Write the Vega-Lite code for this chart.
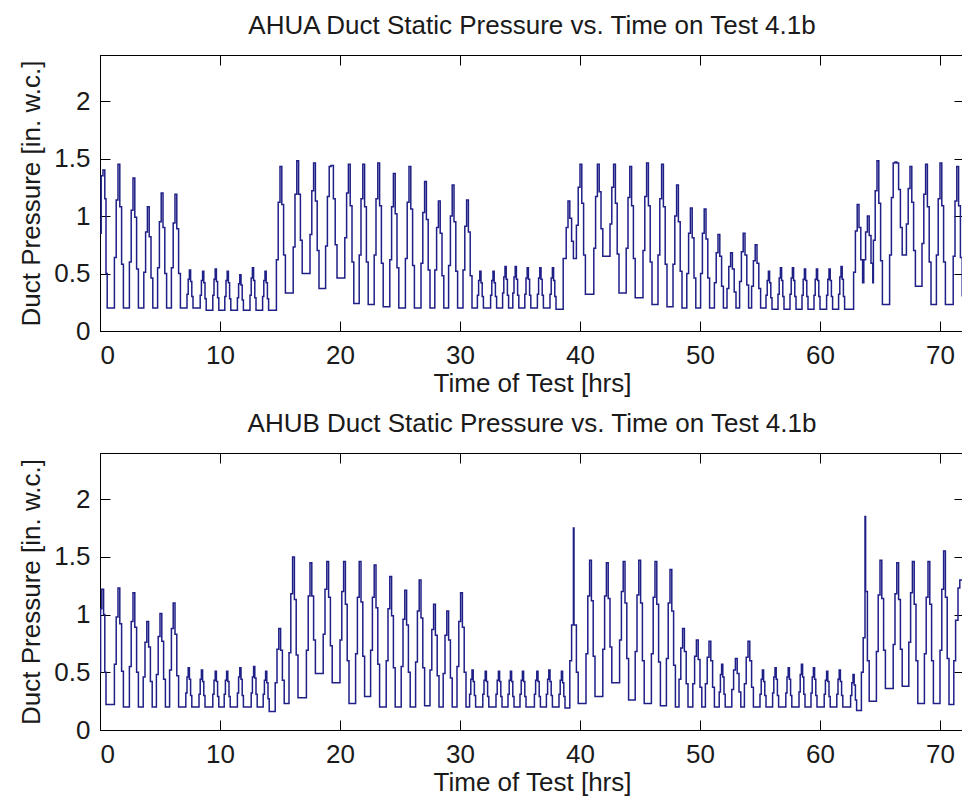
{
  "$schema": "https://vega.github.io/schema/vega-lite/v6.json",
  "padding": {"left": 18, "top": 12, "right": 0, "bottom": 0},
  "background": "white",
  "config": {
    "font": "Liberation Sans",
    "view": {"stroke": "#000", "strokeWidth": 1},
    "axis": {"grid": false, "domainColor": "#000", "tickColor": "#000", "labelFontSize": 26, "labelColor": "#1a1a1a", "titleFontSize": 26, "titleFontWeight": "normal", "titleColor": "#1a1a1a", "tickSize": -10},
    "axisX": {"labelPadding": 21},
    "axisY": {"labelPadding": 20},
    "title": {"fontSize": 26, "fontWeight": "normal", "color": "#1a1a1a", "baseline": "alphabetic", "offset": 16}
  },
  "spacing": 13,
  "vconcat": [
    {
      "title": "AHUA Duct Static Pressure vs. Time on Test 4.1b",
      "width": 864, "height": 276,
      "data": {"name": "a"},
      "layer": [
        {"mark": {"type": "line", "interpolate": "step-after", "color": "#1f1f88", "strokeWidth": 1.5, "clip": true},
         "encoding": {
           "x": {"field": "t", "type": "quantitative", "scale": {"domain": [0, 72], "nice": false, "zero": false},
                 "axis": {"orient": "bottom", "values": [0, 10, 20, 30, 40, 50, 60, 70], "title": "Time of Test [hrs]", "titlePadding": 2}},
           "y": {"field": "v", "type": "quantitative", "scale": {"domain": [0, 2.4], "nice": false},
                 "axis": {"orient": "left", "values": [0, 0.5, 1, 1.5, 2], "format": "~g", "title": "Duct Pressure [in. w.c.]", "titlePadding": 9}}}},
        {"mark": {"type": "line", "opacity": 0},
         "encoding": {
           "x": {"field": "t", "type": "quantitative", "axis": {"orient": "top", "values": [0, 10, 20, 30, 40, 50, 60, 70], "labels": false, "title": null}},
           "y": {"field": "v", "type": "quantitative", "axis": {"orient": "right", "values": [0, 0.5, 1, 1.5, 2], "labels": false, "title": null}}}}
      ]
    },
    {
      "title": "AHUB Duct Static Pressure vs. Time on Test 4.1b",
      "width": 864, "height": 277,
      "data": {"name": "b"},
      "layer": [
        {"mark": {"type": "line", "interpolate": "step-after", "color": "#1f1f88", "strokeWidth": 1.5, "clip": true},
         "encoding": {
           "x": {"field": "t", "type": "quantitative", "scale": {"domain": [0, 72], "nice": false, "zero": false},
                 "axis": {"orient": "bottom", "values": [0, 10, 20, 30, 40, 50, 60, 70], "title": "Time of Test [hrs]", "titlePadding": 2}},
           "y": {"field": "v", "type": "quantitative", "scale": {"domain": [0, 2.4], "nice": false},
                 "axis": {"orient": "left", "values": [0, 0.5, 1, 1.5, 2], "format": "~g", "title": "Duct Pressure [in. w.c.]", "titlePadding": 9}}}},
        {"mark": {"type": "line", "opacity": 0},
         "encoding": {
           "x": {"field": "t", "type": "quantitative", "axis": {"orient": "top", "values": [0, 10, 20, 30, 40, 50, 60, 70], "labels": false, "title": null}},
           "y": {"field": "v", "type": "quantitative", "axis": {"orient": "right", "values": [0, 0.5, 1, 1.5, 2], "labels": false, "title": null}}}}
      ]
    }
  ],
  "datasets": {
    "a": [
      {"t":0,"v":0.85},{"t":0.1,"v":1.35},{"t":0.25,"v":1.4},{"t":0.4,"v":1.15},{"t":0.5,"v":0.5},{"t":0.6,"v":0.2},
      {"t":1.2,"v":0.64},{"t":1.35,"v":1.14},{"t":1.5,"v":1.45},{"t":1.65,"v":1.08},{"t":1.8,"v":0.58},{"t":1.95,"v":0.2},
      {"t":2.45,"v":0.6},{"t":2.6,"v":1.05},{"t":2.75,"v":1.33},{"t":2.9,"v":0.99},{"t":3.05,"v":0.54},{"t":3.2,"v":0.2},
      {"t":3.65,"v":0.51},{"t":3.8,"v":0.86},{"t":3.95,"v":1.08},{"t":4.1,"v":0.82},{"t":4.25,"v":0.46},{"t":4.4,"v":0.2},
      {"t":4.8,"v":0.55},{"t":4.95,"v":0.95},{"t":5.1,"v":1.2},{"t":5.25,"v":0.9},{"t":5.4,"v":0.5},{"t":5.55,"v":0.2},
      {"t":5.95,"v":0.55},{"t":6.1,"v":0.94},{"t":6.25,"v":1.19},{"t":6.4,"v":0.89},{"t":6.55,"v":0.5},{"t":6.7,"v":0.2},
      {"t":7.25,"v":0.32},{"t":7.35,"v":0.45},{"t":7.45,"v":0.53},{"t":7.55,"v":0.43},{"t":7.65,"v":0.3},{"t":7.75,"v":0.2},
      {"t":8.35,"v":0.31},{"t":8.45,"v":0.44},{"t":8.55,"v":0.52},{"t":8.65,"v":0.42},{"t":8.75,"v":0.28},{"t":8.85,"v":0.18},
      {"t":9.4,"v":0.31},{"t":9.5,"v":0.45},{"t":9.6,"v":0.54},{"t":9.7,"v":0.43},{"t":9.8,"v":0.29},{"t":9.9,"v":0.18},
      {"t":10.4,"v":0.3},{"t":10.5,"v":0.44},{"t":10.6,"v":0.52},{"t":10.7,"v":0.42},{"t":10.8,"v":0.28},{"t":10.9,"v":0.18},
      {"t":11.45,"v":0.29},{"t":11.55,"v":0.41},{"t":11.65,"v":0.49},{"t":11.75,"v":0.4},{"t":11.85,"v":0.27},{"t":11.95,"v":0.18},
      {"t":12.5,"v":0.31},{"t":12.6,"v":0.46},{"t":12.7,"v":0.55},{"t":12.8,"v":0.44},{"t":12.9,"v":0.29},{"t":13.0,"v":0.18},
      {"t":13.55,"v":0.3},{"t":13.65,"v":0.44},{"t":13.75,"v":0.52},{"t":13.85,"v":0.42},{"t":13.95,"v":0.28},{"t":14.05,"v":0.18},
      {"t":14.7,"v":0.62},{"t":14.85,"v":1.12},{"t":15.0,"v":1.43},{"t":15.15,"v":1.1},{"t":15.3,"v":0.66},{"t":15.45,"v":0.33},
      {"t":16.1,"v":0.73},{"t":16.25,"v":1.19},{"t":16.4,"v":1.48},{"t":16.55,"v":1.19},{"t":16.7,"v":0.79},{"t":16.85,"v":0.5},
      {"t":17.5,"v":0.84},{"t":17.65,"v":1.22},{"t":17.8,"v":1.46},{"t":17.95,"v":1.13},{"t":18.1,"v":0.7},{"t":18.25,"v":0.37},
      {"t":18.8,"v":0.74},{"t":18.95,"v":1.17},{"t":19.1,"v":1.43},{"t":19.25,"v":1.44},{"t":19.45,"v":1.15},{"t":19.6,"v":0.75},{"t":19.75,"v":0.46},
      {"t":20.4,"v":0.81},{"t":20.55,"v":1.2},{"t":20.7,"v":1.45},{"t":20.85,"v":1.09},{"t":21.0,"v":0.6},{"t":21.15,"v":0.24},
      {"t":21.6,"v":0.66},{"t":21.75,"v":1.15},{"t":21.9,"v":1.45},{"t":22.05,"v":1.08},{"t":22.2,"v":0.6},{"t":22.35,"v":0.23},
      {"t":22.85,"v":0.66},{"t":23.0,"v":1.15},{"t":23.15,"v":1.46},{"t":23.3,"v":1.09},{"t":23.45,"v":0.59},{"t":23.6,"v":0.21},
      {"t":24.15,"v":0.62},{"t":24.3,"v":1.08},{"t":24.45,"v":1.37},{"t":24.6,"v":1.02},{"t":24.75,"v":0.55},{"t":24.9,"v":0.2},
      {"t":25.45,"v":0.63},{"t":25.6,"v":1.12},{"t":25.75,"v":1.43},{"t":25.9,"v":1.06},{"t":26.05,"v":0.57},{"t":26.2,"v":0.2},
      {"t":26.75,"v":0.59},{"t":26.9,"v":1.03},{"t":27.05,"v":1.3},{"t":27.2,"v":0.97},{"t":27.35,"v":0.53},{"t":27.5,"v":0.2},
      {"t":27.9,"v":0.53},{"t":28.05,"v":0.9},{"t":28.2,"v":1.13},{"t":28.35,"v":0.85},{"t":28.5,"v":0.48},{"t":28.65,"v":0.2},
      {"t":29.05,"v":0.57},{"t":29.2,"v":1.0},{"t":29.35,"v":1.27},{"t":29.5,"v":0.95},{"t":29.65,"v":0.52},{"t":29.8,"v":0.2},
      {"t":30.25,"v":0.53},{"t":30.4,"v":0.91},{"t":30.55,"v":1.14},{"t":30.7,"v":0.86},{"t":30.85,"v":0.48},{"t":31.0,"v":0.2},
      {"t":31.45,"v":0.31},{"t":31.55,"v":0.44},{"t":31.65,"v":0.52},{"t":31.75,"v":0.42},{"t":31.85,"v":0.3},{"t":31.95,"v":0.2},
      {"t":32.55,"v":0.31},{"t":32.65,"v":0.44},{"t":32.75,"v":0.52},{"t":32.85,"v":0.42},{"t":32.95,"v":0.3},{"t":33.05,"v":0.2},
      {"t":33.55,"v":0.33},{"t":33.65,"v":0.47},{"t":33.75,"v":0.56},{"t":33.85,"v":0.45},{"t":33.95,"v":0.31},{"t":34.05,"v":0.2},
      {"t":34.4,"v":0.33},{"t":34.5,"v":0.47},{"t":34.6,"v":0.56},{"t":34.7,"v":0.45},{"t":34.8,"v":0.31},{"t":34.9,"v":0.2},
      {"t":35.4,"v":0.32},{"t":35.5,"v":0.46},{"t":35.6,"v":0.55},{"t":35.7,"v":0.45},{"t":35.8,"v":0.31},{"t":35.9,"v":0.2},
      {"t":36.45,"v":0.32},{"t":36.55,"v":0.46},{"t":36.65,"v":0.55},{"t":36.75,"v":0.45},{"t":36.85,"v":0.31},{"t":36.95,"v":0.2},
      {"t":37.5,"v":0.32},{"t":37.6,"v":0.46},{"t":37.7,"v":0.55},{"t":37.8,"v":0.44},{"t":37.9,"v":0.3},{"t":38.0,"v":0.19},
      {"t":38.6,"v":0.63},{"t":38.85,"v":0.9},{"t":39.0,"v":1.13},{"t":39.15,"v":0.98},{"t":39.3,"v":0.78},{"t":39.45,"v":0.63},
      {"t":39.7,"v":0.92},{"t":39.85,"v":1.25},{"t":40.0,"v":1.45},{"t":40.15,"v":1.11},{"t":40.3,"v":0.66},{"t":40.45,"v":0.32},
      {"t":41.15,"v":0.72},{"t":41.3,"v":1.17},{"t":41.45,"v":1.45},{"t":41.6,"v":1.21},{"t":41.75,"v":0.89},{"t":41.9,"v":0.65},
      {"t":42.5,"v":0.93},{"t":42.65,"v":1.25},{"t":42.8,"v":1.45},{"t":42.95,"v":1.11},{"t":43.1,"v":0.67},{"t":43.25,"v":0.33},
      {"t":43.85,"v":0.72},{"t":44.0,"v":1.16},{"t":44.15,"v":1.43},{"t":44.3,"v":1.09},{"t":44.45,"v":0.63},{"t":44.6,"v":0.29},
      {"t":45.25,"v":0.7},{"t":45.4,"v":1.17},{"t":45.55,"v":1.46},{"t":45.7,"v":1.09},{"t":45.85,"v":0.6},{"t":46.0,"v":0.23},
      {"t":46.5,"v":0.66},{"t":46.65,"v":1.15},{"t":46.8,"v":1.45},{"t":46.95,"v":1.08},{"t":47.1,"v":0.58},{"t":47.25,"v":0.21},
      {"t":47.75,"v":0.58},{"t":47.9,"v":1.0},{"t":48.05,"v":1.27},{"t":48.2,"v":0.95},{"t":48.35,"v":0.52},{"t":48.5,"v":0.2},
      {"t":48.9,"v":0.5},{"t":49.05,"v":0.85},{"t":49.2,"v":1.07},{"t":49.35,"v":0.81},{"t":49.5,"v":0.46},{"t":49.65,"v":0.2},
      {"t":50.05,"v":0.5},{"t":50.2,"v":0.85},{"t":50.35,"v":1.06},{"t":50.5,"v":0.8},{"t":50.65,"v":0.46},{"t":50.8,"v":0.2},
      {"t":51.2,"v":0.42},{"t":51.35,"v":0.68},{"t":51.5,"v":0.84},{"t":51.65,"v":0.65},{"t":51.8,"v":0.39},{"t":51.95,"v":0.2},
      {"t":52.25,"v":0.37},{"t":52.4,"v":0.56},{"t":52.55,"v":0.68},{"t":52.7,"v":0.54},{"t":52.85,"v":0.34},{"t":53.0,"v":0.2},
      {"t":53.3,"v":0.43},{"t":53.45,"v":0.69},{"t":53.6,"v":0.85},{"t":53.75,"v":0.66},{"t":53.9,"v":0.4},{"t":54.05,"v":0.2},
      {"t":54.3,"v":0.39},{"t":54.45,"v":0.61},{"t":54.6,"v":0.75},{"t":54.75,"v":0.59},{"t":54.9,"v":0.37},{"t":55.05,"v":0.2},
      {"t":55.5,"v":0.31},{"t":55.6,"v":0.44},{"t":55.7,"v":0.52},{"t":55.8,"v":0.42},{"t":55.9,"v":0.29},{"t":56.0,"v":0.19},
      {"t":56.5,"v":0.32},{"t":56.6,"v":0.46},{"t":56.7,"v":0.55},{"t":56.8,"v":0.44},{"t":56.9,"v":0.3},{"t":57.0,"v":0.19},
      {"t":57.5,"v":0.32},{"t":57.6,"v":0.46},{"t":57.7,"v":0.55},{"t":57.8,"v":0.44},{"t":57.9,"v":0.3},{"t":58.0,"v":0.19},
      {"t":58.5,"v":0.31},{"t":58.6,"v":0.45},{"t":58.7,"v":0.54},{"t":58.8,"v":0.44},{"t":58.9,"v":0.3},{"t":59.0,"v":0.19},
      {"t":59.5,"v":0.31},{"t":59.6,"v":0.45},{"t":59.7,"v":0.54},{"t":59.8,"v":0.44},{"t":59.9,"v":0.3},{"t":60.0,"v":0.19},
      {"t":60.55,"v":0.31},{"t":60.65,"v":0.45},{"t":60.75,"v":0.54},{"t":60.85,"v":0.44},{"t":60.95,"v":0.3},{"t":61.05,"v":0.19},
      {"t":61.55,"v":0.32},{"t":61.65,"v":0.47},{"t":61.75,"v":0.56},{"t":61.85,"v":0.45},{"t":61.95,"v":0.3},{"t":62.05,"v":0.19},
      {"t":62.8,"v":0.51},{"t":62.95,"v":0.87},{"t":63.1,"v":1.1},{"t":63.25,"v":0.9},{"t":63.4,"v":0.62},{"t":63.55,"v":0.42},
      {"t":63.65,"v":0.62},{"t":63.8,"v":0.86},{"t":63.95,"v":1.0},{"t":64.1,"v":0.83},{"t":64.25,"v":0.59},{"t":64.4,"v":0.42},
      {"t":64.45,"v":0.79},{"t":64.6,"v":1.22},{"t":64.75,"v":1.48},{"t":64.9,"v":1.11},{"t":65.05,"v":0.61},{"t":65.2,"v":0.23},
      {"t":65.8,"v":0.66},{"t":65.95,"v":1.16},{"t":66.1,"v":1.46},{"t":66.25,"v":1.47},{"t":66.4,"v":1.46},{"t":66.55,"v":1.23},{"t":66.7,"v":0.9},{"t":66.85,"v":0.66},
      {"t":67.2,"v":0.93},{"t":67.35,"v":1.24},{"t":67.5,"v":1.43},{"t":67.65,"v":1.12},{"t":67.8,"v":0.7},{"t":67.95,"v":0.39},
      {"t":68.5,"v":0.76},{"t":68.65,"v":1.19},{"t":68.8,"v":1.45},{"t":68.95,"v":1.08},{"t":69.1,"v":0.6},{"t":69.25,"v":0.23},
      {"t":69.7,"v":0.66},{"t":69.85,"v":1.15},{"t":70.0,"v":1.46},{"t":70.15,"v":1.09},{"t":70.3,"v":0.6},{"t":70.45,"v":0.23},
      {"t":71.1,"v":0.65},{"t":71.25,"v":1.13},{"t":71.4,"v":1.43},{"t":71.55,"v":1.09},{"t":71.7,"v":0.64},{"t":71.85,"v":0.3}
    ],
    "b": [
      {"t":0,"v":0.5},{"t":0.05,"v":1.05},{"t":0.15,"v":1.22},{"t":0.3,"v":1.0},{"t":0.4,"v":0.5},{"t":0.5,"v":0.22},
      {"t":1.2,"v":0.57},{"t":1.35,"v":0.98},{"t":1.5,"v":1.23},{"t":1.65,"v":0.92},{"t":1.8,"v":0.51},{"t":1.95,"v":0.2},
      {"t":2.45,"v":0.55},{"t":2.6,"v":0.94},{"t":2.75,"v":1.19},{"t":2.9,"v":0.89},{"t":3.05,"v":0.5},{"t":3.2,"v":0.2},
      {"t":3.6,"v":0.46},{"t":3.75,"v":0.76},{"t":3.9,"v":0.94},{"t":4.05,"v":0.72},{"t":4.2,"v":0.42},{"t":4.35,"v":0.2},
      {"t":4.7,"v":0.48},{"t":4.85,"v":0.81},{"t":5.0,"v":1.01},{"t":5.15,"v":0.77},{"t":5.3,"v":0.44},{"t":5.45,"v":0.2},
      {"t":5.8,"v":0.52},{"t":5.95,"v":0.88},{"t":6.1,"v":1.1},{"t":6.25,"v":0.83},{"t":6.4,"v":0.47},{"t":6.55,"v":0.2},
      {"t":7.15,"v":0.32},{"t":7.25,"v":0.46},{"t":7.35,"v":0.54},{"t":7.45,"v":0.44},{"t":7.55,"v":0.3},{"t":7.65,"v":0.2},
      {"t":8.25,"v":0.31},{"t":8.35,"v":0.44},{"t":8.45,"v":0.52},{"t":8.55,"v":0.42},{"t":8.65,"v":0.3},{"t":8.75,"v":0.2},
      {"t":9.4,"v":0.31},{"t":9.5,"v":0.43},{"t":9.6,"v":0.51},{"t":9.7,"v":0.42},{"t":9.8,"v":0.29},{"t":9.9,"v":0.2},
      {"t":10.35,"v":0.31},{"t":10.45,"v":0.43},{"t":10.55,"v":0.51},{"t":10.65,"v":0.42},{"t":10.75,"v":0.29},{"t":10.85,"v":0.2},
      {"t":11.45,"v":0.32},{"t":11.55,"v":0.46},{"t":11.65,"v":0.54},{"t":11.75,"v":0.44},{"t":11.85,"v":0.3},{"t":11.95,"v":0.2},
      {"t":12.6,"v":0.32},{"t":12.7,"v":0.46},{"t":12.8,"v":0.55},{"t":12.9,"v":0.45},{"t":13.0,"v":0.31},{"t":13.1,"v":0.2},
      {"t":13.6,"v":0.31},{"t":13.7,"v":0.43},{"t":13.8,"v":0.51},{"t":13.9,"v":0.41},{"t":14.0,"v":0.27},{"t":14.1,"v":0.16},
      {"t":14.6,"v":0.41},{"t":14.75,"v":0.7},{"t":14.9,"v":0.88},{"t":15.05,"v":0.69},{"t":15.2,"v":0.43},{"t":15.35,"v":0.23},
      {"t":15.75,"v":0.67},{"t":15.9,"v":1.18},{"t":16.05,"v":1.5},{"t":16.2,"v":1.13},{"t":16.35,"v":0.65},{"t":16.5,"v":0.28},
      {"t":17.2,"v":0.69},{"t":17.35,"v":1.16},{"t":17.5,"v":1.45},{"t":17.65,"v":1.16},{"t":17.8,"v":0.78},{"t":17.95,"v":0.49},
      {"t":18.6,"v":0.83},{"t":18.75,"v":1.22},{"t":18.9,"v":1.46},{"t":19.05,"v":1.15},{"t":19.2,"v":0.73},{"t":19.35,"v":0.41},
      {"t":20.0,"v":0.78},{"t":20.15,"v":1.2},{"t":20.3,"v":1.46},{"t":20.45,"v":1.09},{"t":20.6,"v":0.6},{"t":20.75,"v":0.23},
      {"t":21.3,"v":0.66},{"t":21.45,"v":1.15},{"t":21.6,"v":1.46},{"t":21.75,"v":1.11},{"t":21.9,"v":0.64},{"t":22.05,"v":0.29},
      {"t":22.55,"v":0.69},{"t":22.7,"v":1.15},{"t":22.85,"v":1.43},{"t":23.0,"v":1.06},{"t":23.15,"v":0.57},{"t":23.3,"v":0.2},
      {"t":23.85,"v":0.6},{"t":24.0,"v":1.05},{"t":24.15,"v":1.33},{"t":24.3,"v":0.99},{"t":24.45,"v":0.54},{"t":24.6,"v":0.2},
      {"t":25.1,"v":0.55},{"t":25.25,"v":0.96},{"t":25.4,"v":1.21},{"t":25.55,"v":0.91},{"t":25.7,"v":0.5},{"t":25.85,"v":0.2},
      {"t":26.3,"v":0.59},{"t":26.45,"v":1.03},{"t":26.6,"v":1.3},{"t":26.75,"v":0.97},{"t":26.9,"v":0.54},{"t":27.05,"v":0.21},
      {"t":27.5,"v":0.52},{"t":27.65,"v":0.87},{"t":27.8,"v":1.09},{"t":27.95,"v":0.82},{"t":28.1,"v":0.47},{"t":28.25,"v":0.2},
      {"t":28.6,"v":0.49},{"t":28.75,"v":0.82},{"t":28.9,"v":1.03},{"t":29.05,"v":0.78},{"t":29.2,"v":0.45},{"t":29.35,"v":0.2},
      {"t":29.75,"v":0.55},{"t":29.9,"v":0.94},{"t":30.05,"v":1.19},{"t":30.2,"v":0.89},{"t":30.35,"v":0.5},{"t":30.5,"v":0.2},
      {"t":30.8,"v":0.31},{"t":30.9,"v":0.44},{"t":31.0,"v":0.52},{"t":31.1,"v":0.42},{"t":31.2,"v":0.3},{"t":31.3,"v":0.2},
      {"t":31.9,"v":0.31},{"t":32.0,"v":0.43},{"t":32.1,"v":0.51},{"t":32.2,"v":0.42},{"t":32.3,"v":0.29},{"t":32.4,"v":0.2},
      {"t":33.0,"v":0.31},{"t":33.1,"v":0.43},{"t":33.2,"v":0.51},{"t":33.3,"v":0.42},{"t":33.4,"v":0.29},{"t":33.5,"v":0.2},
      {"t":34.0,"v":0.31},{"t":34.1,"v":0.43},{"t":34.2,"v":0.51},{"t":34.3,"v":0.42},{"t":34.4,"v":0.29},{"t":34.5,"v":0.2},
      {"t":35.0,"v":0.31},{"t":35.1,"v":0.43},{"t":35.2,"v":0.51},{"t":35.3,"v":0.42},{"t":35.4,"v":0.29},{"t":35.5,"v":0.2},
      {"t":36.2,"v":0.31},{"t":36.3,"v":0.43},{"t":36.4,"v":0.51},{"t":36.5,"v":0.42},{"t":36.6,"v":0.29},{"t":36.7,"v":0.2},
      {"t":37.2,"v":0.31},{"t":37.3,"v":0.44},{"t":37.4,"v":0.52},{"t":37.5,"v":0.42},{"t":37.6,"v":0.3},{"t":37.7,"v":0.2},
      {"t":38.25,"v":0.31},{"t":38.35,"v":0.43},{"t":38.45,"v":0.51},{"t":38.55,"v":0.41},{"t":38.65,"v":0.29},{"t":38.75,"v":0.19},
      {"t":39.15,"v":0.6},{"t":39.3,"v":0.91},{"t":39.45,"v":1.75},{"t":39.5,"v":0.91},{"t":39.7,"v":0.5},{"t":39.85,"v":0.23},
      {"t":40.5,"v":0.66},{"t":40.65,"v":1.16},{"t":40.8,"v":1.47},{"t":40.95,"v":1.12},{"t":41.1,"v":0.64},{"t":41.25,"v":0.29},
      {"t":41.9,"v":0.7},{"t":42.05,"v":1.16},{"t":42.2,"v":1.45},{"t":42.35,"v":1.14},{"t":42.5,"v":0.72},{"t":42.65,"v":0.41},
      {"t":43.3,"v":0.78},{"t":43.45,"v":1.2},{"t":43.6,"v":1.46},{"t":43.75,"v":1.1},{"t":43.9,"v":0.62},{"t":44.05,"v":0.26},
      {"t":44.6,"v":0.68},{"t":44.75,"v":1.17},{"t":44.9,"v":1.47},{"t":45.05,"v":1.1},{"t":45.2,"v":0.6},{"t":45.35,"v":0.23},
      {"t":45.95,"v":0.66},{"t":46.1,"v":1.15},{"t":46.25,"v":1.46},{"t":46.4,"v":1.09},{"t":46.55,"v":0.59},{"t":46.7,"v":0.21},
      {"t":47.2,"v":0.62},{"t":47.35,"v":1.1},{"t":47.5,"v":1.39},{"t":47.65,"v":1.03},{"t":47.8,"v":0.56},{"t":47.95,"v":0.2},
      {"t":48.25,"v":0.44},{"t":48.4,"v":0.71},{"t":48.55,"v":0.88},{"t":48.7,"v":0.68},{"t":48.85,"v":0.4},{"t":49.0,"v":0.2},
      {"t":49.4,"v":0.4},{"t":49.55,"v":0.64},{"t":49.7,"v":0.78},{"t":49.85,"v":0.61},{"t":50.0,"v":0.37},{"t":50.15,"v":0.2},
      {"t":50.45,"v":0.4},{"t":50.6,"v":0.63},{"t":50.75,"v":0.77},{"t":50.9,"v":0.6},{"t":51.05,"v":0.37},{"t":51.2,"v":0.2},
      {"t":51.6,"v":0.33},{"t":51.7,"v":0.48},{"t":51.8,"v":0.57},{"t":51.9,"v":0.46},{"t":52.0,"v":0.31},{"t":52.1,"v":0.2},
      {"t":52.65,"v":0.35},{"t":52.8,"v":0.52},{"t":52.95,"v":0.62},{"t":53.1,"v":0.49},{"t":53.25,"v":0.33},{"t":53.4,"v":0.2},
      {"t":53.7,"v":0.4},{"t":53.85,"v":0.63},{"t":54.0,"v":0.77},{"t":54.15,"v":0.6},{"t":54.3,"v":0.37},{"t":54.45,"v":0.2},
      {"t":55.0,"v":0.31},{"t":55.1,"v":0.44},{"t":55.2,"v":0.52},{"t":55.3,"v":0.42},{"t":55.4,"v":0.3},{"t":55.5,"v":0.2},
      {"t":56.05,"v":0.32},{"t":56.15,"v":0.46},{"t":56.25,"v":0.54},{"t":56.35,"v":0.44},{"t":56.45,"v":0.3},{"t":56.55,"v":0.2},
      {"t":57.15,"v":0.32},{"t":57.25,"v":0.46},{"t":57.35,"v":0.54},{"t":57.45,"v":0.44},{"t":57.55,"v":0.3},{"t":57.65,"v":0.2},
      {"t":58.25,"v":0.33},{"t":58.35,"v":0.48},{"t":58.45,"v":0.57},{"t":58.55,"v":0.46},{"t":58.65,"v":0.31},{"t":58.75,"v":0.2},
      {"t":59.25,"v":0.32},{"t":59.35,"v":0.46},{"t":59.45,"v":0.54},{"t":59.55,"v":0.44},{"t":59.65,"v":0.3},{"t":59.75,"v":0.2},
      {"t":60.35,"v":0.31},{"t":60.45,"v":0.43},{"t":60.55,"v":0.51},{"t":60.65,"v":0.42},{"t":60.75,"v":0.29},{"t":60.85,"v":0.2},
      {"t":61.4,"v":0.31},{"t":61.5,"v":0.44},{"t":61.6,"v":0.52},{"t":61.7,"v":0.42},{"t":61.8,"v":0.3},{"t":61.9,"v":0.2},
      {"t":62.55,"v":0.3},{"t":62.65,"v":0.41},{"t":62.75,"v":0.48},{"t":62.85,"v":0.39},{"t":62.95,"v":0.26},{"t":63.05,"v":0.17},
      {"t":63.45,"v":0.5},{"t":63.6,"v":0.8},{"t":63.75,"v":1.85},{"t":63.8,"v":1.2},{"t":63.95,"v":0.6},{"t":64.1,"v":0.25},
      {"t":64.7,"v":0.68},{"t":64.85,"v":1.17},{"t":65.0,"v":1.47},{"t":65.15,"v":1.14},{"t":65.3,"v":0.69},{"t":65.45,"v":0.36},
      {"t":66.1,"v":0.74},{"t":66.25,"v":1.18},{"t":66.4,"v":1.45},{"t":66.55,"v":1.13},{"t":66.7,"v":0.7},{"t":66.85,"v":0.38},
      {"t":67.4,"v":0.76},{"t":67.55,"v":1.19},{"t":67.7,"v":1.46},{"t":67.85,"v":1.09},{"t":68.0,"v":0.6},{"t":68.15,"v":0.23},
      {"t":68.7,"v":0.66},{"t":68.85,"v":1.15},{"t":69.0,"v":1.46},{"t":69.15,"v":1.09},{"t":69.3,"v":0.6},{"t":69.45,"v":0.23},
      {"t":70.0,"v":0.69},{"t":70.15,"v":1.22},{"t":70.3,"v":1.55},{"t":70.45,"v":1.15},{"t":70.6,"v":0.62},{"t":70.75,"v":0.22},
      {"t":71.15,"v":0.6},{"t":71.3,"v":0.95},{"t":71.5,"v":1.23},{"t":71.65,"v":1.3},{"t":72,"v":1.3}
    ]
  }
}
